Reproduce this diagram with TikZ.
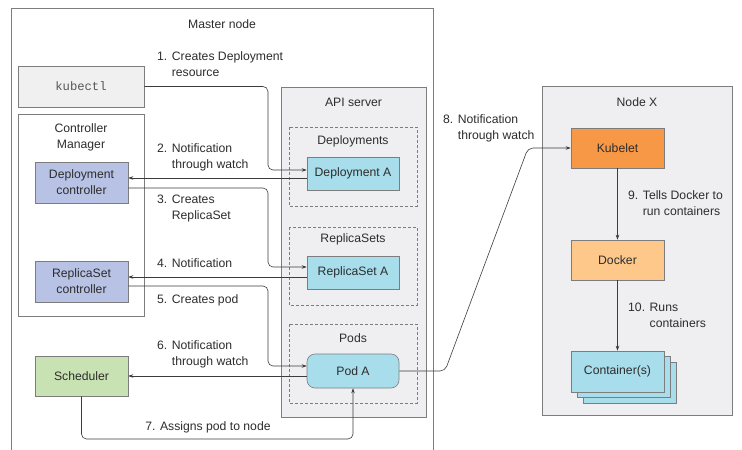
\documentclass[tikz,border=0pt]{standalone}
\usepackage{fontspec}
\setmainfont{Liberation Sans}
\setmonofont{Liberation Mono}
\usetikzlibrary{arrows.meta}
\definecolor{txt}{RGB}{45,45,45}
\definecolor{edge}{RGB}{60,60,60}
\definecolor{frame}{RGB}{125,125,125}
\definecolor{panel}{RGB}{239,239,241}
\definecolor{cmdgray}{RGB}{240,240,240}
\definecolor{ctlblue}{RGB}{183,194,229}
\definecolor{schedgreen}{RGB}{200,226,179}
\definecolor{rescyan}{RGB}{168,221,235}
\definecolor{kubeorange}{RGB}{246,152,69}
\definecolor{dockorange}{RGB}{253,200,138}
\newcommand{\lblfont}{\fontsize{12.2}{16}\selectfont}
\begin{document}
\begin{tikzpicture}[x=1pt,y=-1pt,
  every node/.style={text=txt, font=\lblfont},
  box/.style={draw=frame, line width=0.6pt, inner sep=0pt, align=center},
  panelbox/.style={draw=frame, line width=0.6pt, fill=panel},
  group/.style={draw=frame, line width=0.5pt, dashed, dash pattern=on 3pt off 2pt},
  arr/.style={draw=edge, line width=0.6pt, rounded corners=5pt, -{Stealth[length=5pt,width=3.5pt]}},
  note/.style={align=left, anchor=west, inner sep=0pt}]
\useasboundingbox (0,0) rectangle (742,450);
\fill[white] (0,0) rectangle (742,450);

% Master node
\draw[frame, line width=0.6pt] (11,8) rectangle (433,470);
\node (mastertitle) at (222,24) {Master node};

% kubectl and controller manager
\node[box, fill=cmdgray, minimum width=126pt, minimum height=41pt] (kubectl) at (81,86.5)
  {\color{txt!80}\texttt{kubectl}};
\draw[frame, line width=0.6pt, fill=white] (18,114) rectangle (144,316);
\node[align=center] (cmtitle) at (81,137) {Controller\\Manager};
\node[box, fill=ctlblue, minimum width=93pt, minimum height=41pt] (depctl) at (81.5,182.5) {Deployment\\controller};
\node[box, fill=ctlblue, minimum width=93pt, minimum height=41pt] (rsctl) at (81.5,281.5) {ReplicaSet\\controller};
\node[box, fill=schedgreen, minimum width=93pt, minimum height=40pt] (sched) at (81.5,376) {Scheduler};

% API server
\draw[panelbox] (281,87) rectangle (426,417);
\node (apititle) at (353.5,102) {API server};
\draw[group] (289,127) rectangle (417,206);
\node (deptitle) at (353,141) {Deployments};
\draw[group] (289,227) rectangle (417,305);
\node (rstitle) at (353,239) {ReplicaSets};
\draw[group] (289,324) rectangle (417,403);
\node (podtitle) at (353,338) {Pods};
\node[box, fill=rescyan, minimum width=92pt, minimum height=33pt] (depA) at (353,173.5) {Deployment A};
\node[box, fill=rescyan, minimum width=92pt, minimum height=33pt] (rsA) at (353,272.5) {ReplicaSet A};
\node[box, fill=rescyan, minimum width=92pt, minimum height=34pt, rounded corners=8pt] (podA) at (353,371) {Pod A};

% Worker node
\draw[panelbox] (542,86) rectangle (732,415);
\node (nodetitle) at (637,102) {Node X};
\node[box, fill=kubeorange, minimum width=93pt, minimum height=40pt] (kubelet) at (617.5,148) {Kubelet};
\node[box, fill=dockorange, minimum width=93pt, minimum height=40pt] (docker) at (617.5,260) {Docker};
\node[box, fill=rescyan, minimum width=93pt, minimum height=41pt] (cont3) at (629.5,382.5) {};
\node[box, fill=rescyan, minimum width=93pt, minimum height=41pt] (cont2) at (623.5,377) {};
\node[box, fill=rescyan, minimum width=93pt, minimum height=41pt] (cont) at (617.5,371.5) {Container(s)};

% Connectors
\draw[arr] (kubectl.east) -| (268,170) -- ([yshift=3.5pt]depA.west);
\draw[arr] ([yshift=-4.5pt]depA.west) -- ([yshift=4.5pt]depctl.east);
\draw[arr] ([yshift=-5.5pt]depctl.east) -| (268,267) -- ([yshift=5.5pt]rsA.west);
\draw[arr] ([yshift=-4.5pt]rsA.west) -- ([yshift=4.5pt]rsctl.east);
\draw[arr] ([yshift=-4.5pt]rsctl.east) -| (268,366) -- ([yshift=5pt]podA.west);
\draw[arr] ([yshift=-5pt]podA.west) -- (sched.east);
\draw[arr] (sched.south) |- (353,439) -- (podA.south);
\draw[arr] (podA.east) -- (445,371) -- (528,148) -- (kubelet.west);
\draw[arr] (kubelet.south) -- (docker.north);
\draw[arr] (docker.south) -- (cont.north);

% Step labels
\node[note] (l1) at (157,64) {1. Creates Deployment\\\hphantom{1. }resource};
\node[note] (l2) at (157,157.5) {2. Notification\\\hphantom{2. }through watch};
\node[note] (l3) at (157,209) {3. Creates\\\hphantom{3. }ReplicaSet};
\node[note] (l4) at (157,263) {4. Notification};
\node[note] (l5) at (157,300) {5. Creates pod};
\node[note] (l6) at (157,354.5) {6. Notification\\\hphantom{6. }through watch};
\node[inner sep=0pt] (l7) at (208,427) {7. Assigns pod to node};
\node[note] (l8) at (443,128) {8. Notification\\\hphantom{8. }through watch};
\node[note] (l9) at (628,203) {9. Tells Docker to\\\hphantom{9. }run containers};
\node[note] (l10) at (628,315) {10. Runs\\\hphantom{10. }containers};
\end{tikzpicture}
\end{document}
